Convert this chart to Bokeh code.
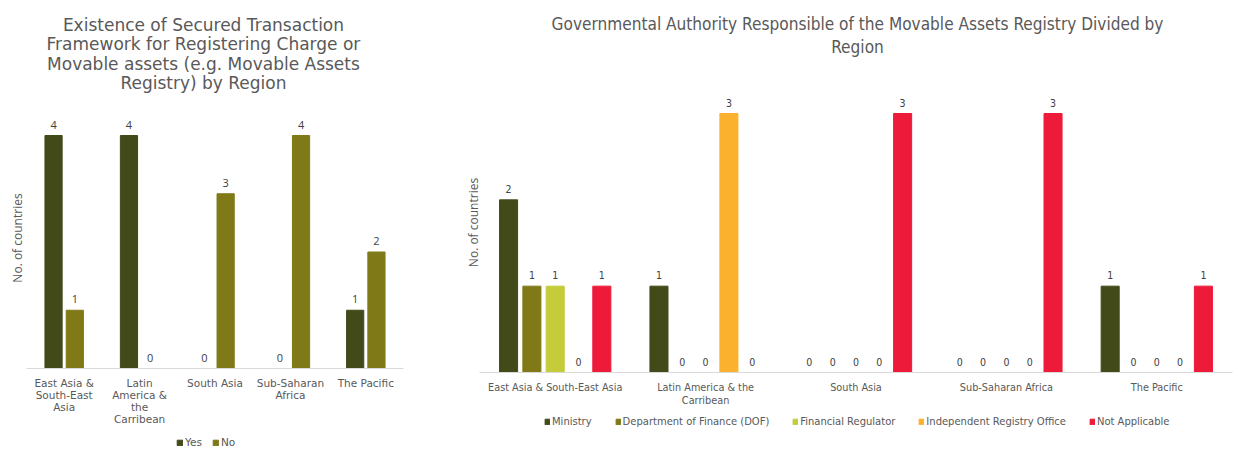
import math
from bokeh.plotting import figure
from bokeh.models import ColumnDataSource, LabelSet, Label, FactorRange, Range1d
from bokeh.transform import dodge
from bokeh.layouts import row
from bokeh.embed import file_html
from bokeh.resources import INLINE
from bokeh.core.properties import value

# ---------------- data ----------------
regions = ["East Asia & South-East Asia", "Latin America & the Carribean",
           "South Asia", "Sub-Saharan Africa", "The Pacific"]

left_tick_labels = ["East Asia &\nSouth-East\nAsia", "Latin\nAmerica &\nthe\nCarribean",
                    "South Asia", "Sub-Saharan\nAfrica", "The Pacific"]
left_series = ["Yes", "No"]
yes_values = [4, 4, 0, 0, 1]
no_values = [1, 0, 3, 4, 2]

right_tick_labels = ["East Asia & South-East Asia", "Latin America & the\nCarribean",
                     "South Asia", "Sub-Saharan Africa", "The Pacific"]
right_series = ["Ministry", "Department of Finance (DOF)", "Financial Regulator",
                "Independent Registry Office", "Not Applicable"]
ministry_values = [2, 1, 0, 0, 1]
dof_values = [1, 0, 0, 0, 0]
fin_reg_values = [1, 0, 0, 0, 0]
indep_values = [0, 3, 0, 0, 0]
not_app_values = [1, 0, 3, 3, 1]

left_title = ("Existence of Secured Transaction\nFramework for Registering Charge or\n"
              "Movable assets (e.g. Movable Assets\nRegistry) by Region")
right_title = ("Governmental Authority Responsible of the Movable Assets Registry Divided by\n"
               "Region")
y_label = "No. of countries"

# ---------------- styles ----------------
C_DARK = "#434A19"
C_OLIVE = "#7F7A17"
C_LIME = "#C4CC3A"
C_ORANGE = "#FBB12E"
C_RED = "#EE1A39"
TXT = "#595959"
NUM = "#404040"
F_LEFT = "DejaVu Sans"
F_RIGHT = "DejaVu Sans Condensed"
F_YL = "Open Sans"
H = 458


def base_fig(width, factors, pad, y0, y1, bl, br, font):
    xr = FactorRange(factors=factors, range_padding=pad, range_padding_units="absolute")
    p = figure(width=width, height=H, x_range=xr, y_range=Range1d(y0, y1),
               output_backend="svg", toolbar_location=None, title=None,
               min_border_left=bl, min_border_right=br,
               min_border_top=0, min_border_bottom=0)
    p.outline_line_color = None
    p.background_fill_color = None
    p.xgrid.visible = False
    p.ygrid.visible = False
    p.yaxis.visible = False
    ax = p.xaxis[0]
    ax.fixed_location = 0
    ax.bounds = (0, len(factors))
    ax.axis_line_color = "#D9D9D9"
    ax.axis_line_width = 1
    ax.major_tick_line_color = None
    ax.minor_tick_line_color = None
    ax.major_tick_out = 0
    ax.major_tick_in = 0
    ax.major_label_text_color = TXT
    ax.major_label_text_font = font
    return p


def style_legend(lg, loc, font, size, spacing, gw):
    lg.orientation = "horizontal"
    lg.location = loc
    lg.glyph_width = gw
    lg.glyph_height = 7
    lg.label_standoff = 2
    lg.spacing = spacing
    lg.padding = 0
    lg.margin = 0
    lg.label_height = 12
    lg.label_text_font = font
    lg.label_text_font_size = size
    lg.label_text_color = TXT
    lg.border_line_color = None
    lg.background_fill_alpha = 0


# ---------------- left chart ----------------
lsrc = ColumnDataSource(dict(
    region=left_tick_labels,
    yes=yes_values, no=no_values,
    yes_t=[str(v) for v in yes_values], no_t=[str(v) for v in no_values],
))

# baseline at 368px, 58.25 px per country
p1 = base_fig(440, left_tick_labels, 0.212, -(H - 368) / 58.25, 368 / 58.25, 10, 21, F_LEFT)
p1.xaxis.major_label_text_font_size = "10.5px"
p1.xaxis.major_label_text_line_height = 1.0
p1.xaxis.major_label_standoff = 8

l_off = [-0.141, 0.141]
l_cols = [C_DARK, C_OLIVE]
l_fields = ["yes", "no"]
for name, off, col, fld in zip(left_series, l_off, l_cols, l_fields):
    xd = dodge("region", off, range=p1.x_range)
    p1.vbar(x=xd, top=fld, width=0.228, source=lsrc, fill_color=col,
            line_color=col, legend_label=name)
    p1.add_layout(LabelSet(x=xd, y=fld, text=fld + "_t", source=lsrc,
                           text_align="center", text_baseline="middle", y_offset=11,
                           text_font=value(F_YL), text_font_size="11px",
                           text_color=NUM))

p1.add_layout(Label(x=2.347, y=(368 - 53.5) / 58.25, text=left_title,
                    text_align="center", text_baseline="middle",
                    text_font=F_LEFT, text_font_size="17px",
                    text_line_height=0.96, text_color=TXT))
p1.add_layout(Label(x=-0.113, y=(368 - 237.5) / 58.25, text=y_label,
                    angle=math.pi / 2, text_align="center", text_baseline="middle",
                    text_font=F_YL, text_font_size="12px", text_color=TXT))

style_legend(p1.legend[0], (166, 10), F_LEFT, "10.5px", 7, 7)

# ---------------- right chart ----------------
r_vals = [ministry_values, dof_values, fin_reg_values, indep_values, not_app_values]
r_fields = ["ministry", "dof", "finreg", "indep", "notapp"]
rdata = dict(region=right_tick_labels)
for f, v in zip(r_fields, r_vals):
    rdata[f] = v
    rdata[f + "_t"] = [str(x) for x in v]
rsrc = ColumnDataSource(rdata)

# baseline at 372px, 86.33 px per country
p2 = base_fig(806, right_tick_labels, 0.0964, -(H - 372) / 86.33, 372 / 86.33, 25, 0, F_RIGHT)
p2.xaxis.major_label_text_font_size = "10.8px"
p2.xaxis.major_label_text_line_height = 1.05
p2.xaxis.major_label_standoff = 8

r_off = [-0.31, -0.155, 0.0, 0.155, 0.31]
r_cols = [C_DARK, C_OLIVE, C_LIME, C_ORANGE, C_RED]
for name, off, col, fld in zip(right_series, r_off, r_cols, r_fields):
    xd = dodge("region", off, range=p2.x_range)
    p2.vbar(x=xd, top=fld, width=0.12, source=rsrc, fill_color=col,
            line_color=col, legend_label=name)
    p2.add_layout(LabelSet(x=xd, y=fld, text=fld + "_t", source=rsrc,
                           text_align="center", text_baseline="middle", y_offset=11,
                           text_font=value(F_RIGHT), text_font_size="10.5px",
                           text_color=NUM))

p2.add_layout(Label(x=2.510, y=(372 - 35) / 86.33, text=right_title,
                    text_align="center", text_baseline="middle",
                    text_font=F_RIGHT, text_font_size="17.1px",
                    text_line_height=1.11, text_color=TXT))
p2.add_layout(Label(x=-0.0465, y=(372 - 222) / 86.33, text=y_label,
                    angle=math.pi / 2, text_align="center", text_baseline="middle",
                    text_font=F_YL, text_font_size="12px", text_color=TXT))

style_legend(p2.legend[0], (79, 30), F_RIGHT, "11.1px", 23, 6)

layout = row(p1, p2, spacing=0)
open("out.html", "w").write(file_html(layout, INLINE))
